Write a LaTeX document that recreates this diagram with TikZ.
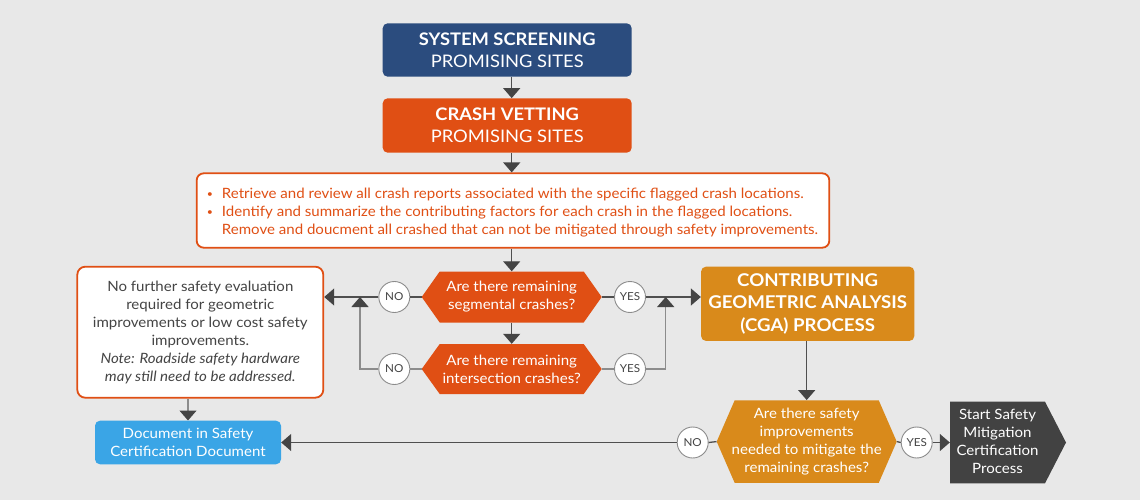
\documentclass[tikz,border=0pt]{standalone}
\usepackage{fontspec}
\setmainfont{Lato}[FakeStretch=1.06]
\usetikzlibrary{arrows.meta}
\definecolor{bgc}{HTML}{E8E8E8}
\definecolor{navy}{HTML}{2B4C7E}
\definecolor{rust}{HTML}{E04F14}
\definecolor{gold}{HTML}{D98A1B}
\definecolor{darkbox}{HTML}{424242}
\definecolor{sky}{HTML}{3AA5E6}
\definecolor{txtc}{HTML}{444444}
\definecolor{lnc}{HTML}{4F4F4F}
\definecolor{lnl}{HTML}{8C8C8C}
\definecolor{tipc}{HTML}{444444}
\newcommand{\smallbul}{\makebox[14pt][l]{\hspace{-1pt}\raisebox{0.5pt}{\fontsize{10}{10}\selectfont\textbullet}}}
\tikzset{
  fbox/.style={inner sep=0pt, align=center, rounded corners=5pt, text=white},
  hexa/.style={inner sep=0pt, align=center, text=white, fill=bgc,
    path picture={\fill[#1] ([xshift=18pt]path picture bounding box.north west) -- ([xshift=-18pt]path picture bounding box.north east) -- (path picture bounding box.east) -- ([xshift=-18pt]path picture bounding box.south east) -- ([xshift=18pt]path picture bounding box.south west) -- (path picture bounding box.west) -- cycle;}},
  penta/.style={inner sep=0pt, text=white, fill=bgc,
    path picture={\fill[#1] (path picture bounding box.north west) -- ([xshift=-21pt]path picture bounding box.north east) -- (path picture bounding box.east) -- ([xshift=-21pt]path picture bounding box.south east) -- (path picture bounding box.south west) -- cycle;}},
  circ/.style={circle, draw=lnl, fill=white, line width=0.9pt, minimum size=31pt, inner sep=0pt, text=txtc, font=\fontsize{11}{12}\selectfont},
  conn/.style={draw=lnc, line width=1.3pt},
  connl/.style={draw=lnl, line width=1.3pt},
  tip/.style={-{Triangle[width=17pt,length=10pt,color=tipc]}},
  body/.style={font=\fontsize{14.2}{18}\selectfont}
}
\begin{document}
\begin{tikzpicture}[x=1pt,y=-1pt]
\useasboundingbox[fill=bgc] (0,0) rectangle (1140,500);

% top boxes
\node[fbox, fill=navy, minimum width=249pt, minimum height=53.4pt,
  font=\fontsize{17.3}{21.6}\selectfont] (s1) at (507.2,50)
  {\textbf{SYSTEM SCREENING}\\PROMISING SITES};
\node[fbox, fill=rust, minimum width=249pt, minimum height=54.4pt,
  font=\fontsize{17.3}{21.6}\selectfont] (s2) at (507.2,125.5)
  {\textbf{CRASH VETTING}\\PROMISING SITES};

% review box
\node[draw=rust, fill=white, line width=1.8pt, rounded corners=7pt,
  minimum width=632.6pt, minimum height=74.4pt, inner sep=0pt, align=left,
  text=rust, body] (rv) at (513,210.5)
  {\rule{0pt}{14pt}\smallbul Retrieve and review all crash reports associated with the specific flagged crash locations.\\
   \smallbul Identify and summarize the contributing factors for each crash in the flagged locations.\\
   \hspace*{14pt}Remove and doucment all crashed that can not be mitigated through safety improvements.};

% decision hexagons
\node[hexa=rust, minimum width=180pt, minimum height=51pt, body] (h1) at (511.7,297)
  {Are there remaining\\segmental crashes?};
\node[hexa=rust, minimum width=180pt, minimum height=50pt, body] (h2) at (511.7,369)
  {Are there remaining\\intersection crashes?};

% NO / YES circles
\node[circ] (n1) at (394.3,297) {NO};
\node[circ] (n2) at (394.3,369) {NO};
\node[circ] (y1) at (630,297) {YES};
\node[circ] (y2) at (630,369) {YES};

% left note box
\node[draw=rust, fill=white, line width=1.8pt, rounded corners=8pt,
  minimum width=246pt, minimum height=131pt, inner sep=0pt, align=center,
  text=txtc, body] (lb) at (200.3,332.2)
  {No further safety evaluation\\required for geometric\\improvements or low cost safety\\improvements.\\
   \textit{Note: Roadside safety hardware}\\\textit{may still need to be addressed.}};

% CGA box
\node[fbox, fill=gold, minimum width=213.3pt, minimum height=74.3pt,
  font=\fontsize{17.6}{22.3}\selectfont\bfseries] (cga) at (807.7,303.8)
  {CONTRIBUTING\\GEOMETRIC ANALYSIS\\(CGA) PROCESS};

% third decision
\node[hexa=gold, minimum width=180pt, minimum height=82.7pt, body] (h3) at (806.7,441.6)
  {Are there safety\\improvements\\needed to mitigate the\\remaining crashes?};
\node[circ] (n3) at (692.7,442.5) {NO};
\node[circ] (y3) at (916.7,442.5) {YES};

% start process box
\node[penta=darkbox, minimum width=116pt, minimum height=81.6pt, body] (sp) at (1008,442.5)
  {\begin{tabular}{@{}c@{}}Start Safety\\Mitigation\\Certification\\Process\end{tabular}\hspace*{21pt}};

% document box
\node[fbox, fill=sky, minimum width=186pt, minimum height=43.6pt,
  font=\fontsize{14.2}{18.7}\selectfont] (doc) at (188,442.5)
  {Document in Safety\\Certification Document};

% junction points
\coordinate (jl) at (360,297);
\coordinate (jr) at (665.7,297);

% connectors
\draw[conn, tip] (s1.south -| h1.north) -- (s2.north -| h1.north);
\draw[conn, tip] (s2.south -| h1.north) -- (rv.north -| h1.north);
\draw[conn, tip] (rv.south -| h1.north) -- (h1.north);
\draw[conn, tip] (h1.south) -- (h2.north);

\draw[conn] (h1.west) -- (n1.east);
\draw[conn, tip] (n1.west) -- (n1.west -| lb.east);
\draw[conn] (h1.east) -- (y1.west);
\draw[conn, tip] (y1.east) -- (y1.east -| cga.west);

\draw[connl] (h2.west) -- (n2.east);
\draw[connl, tip] (n2.west) -| (jl);
\draw[connl] (h2.east) -- (y2.west);
\draw[connl, tip] (y2.east) -| (jr);

\draw[connl, tip] (lb.south -| doc.north) -- (doc.north);
\draw[conn, tip] (cga.south -| h3.north) -- (h3.north);

\draw[conn] (h3.west) -- (n3.east);
\draw[conn, tip] (n3.west) -- (n3.west -| doc.east);
\draw[conn] (h3.east) -- (y3.west);
\draw[conn, tip] (y3.east) -- (y3.east -| sp.west);
\end{tikzpicture}
\end{document}
